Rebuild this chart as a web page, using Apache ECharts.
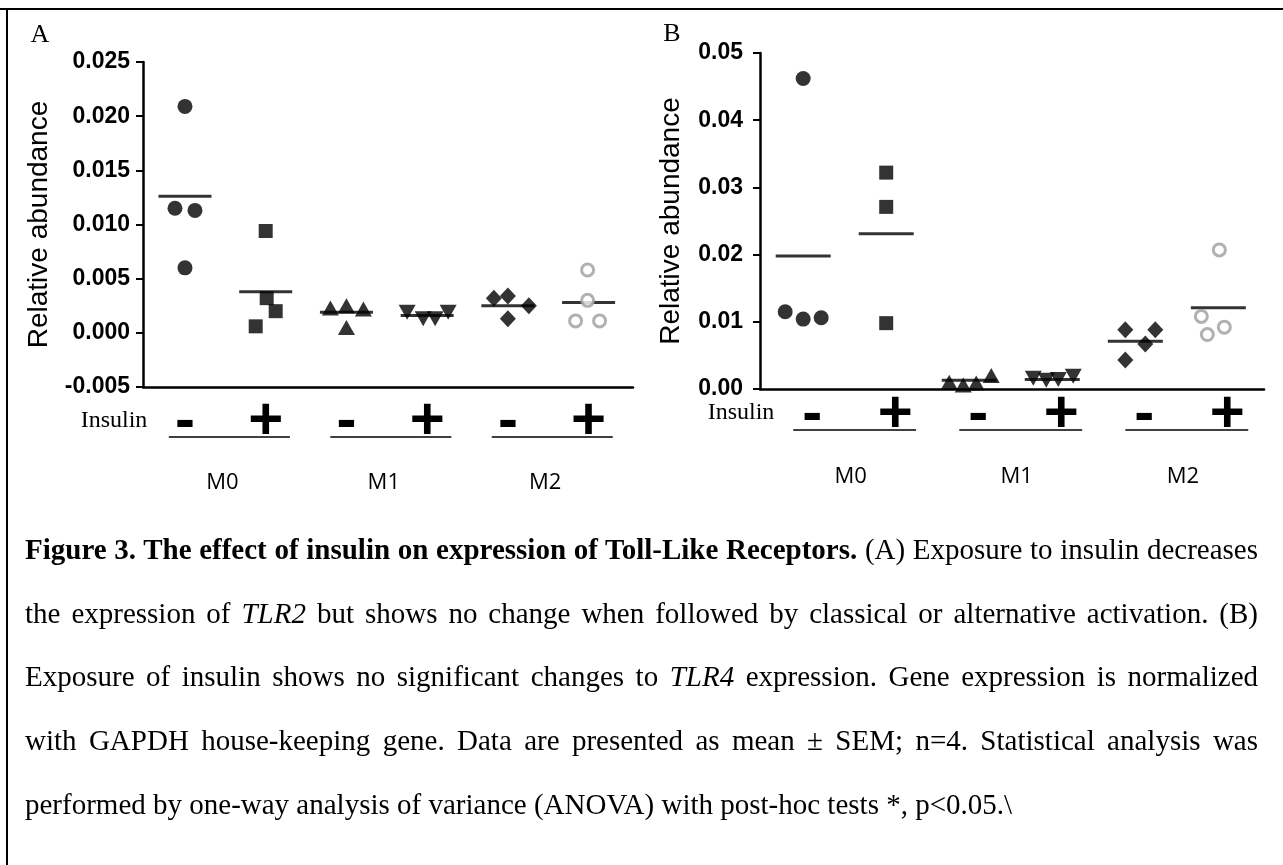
<!DOCTYPE html>
<html>
<head>
<meta charset="utf-8">
<title>Figure 3</title>
<script src="https://cdn.jsdelivr.net/npm/echarts@6/dist/echarts.min.js"></script>
<style>
  html, body { margin: 0; padding: 0; background: #fff; }
  #page { position: relative; width: 1283px; height: 865px; overflow: hidden; background: #fff; }
  #myChart { position: absolute; left: 0; top: 0; width: 1283px; height: 520px; }
  .ruleTop { position: absolute; left: 0; top: 8px; width: 1283px; height: 2px; background: #000; z-index: 5; }
  .ruleLeft { position: absolute; left: 6px; top: 8px; width: 2px; height: 857px; background: #000; z-index: 5; }
  #caption {
    position: absolute; left: 25px; top: 518px; width: 1233px;
    font-family: 'Liberation Serif', 'Times New Roman', serif;
    font-size: 29px; line-height: 63.7px; color: #000;
  }
  #caption .ln { white-space: nowrap; text-align: justify; text-align-last: justify; }
  #caption .ln.last { text-align: left; text-align-last: left; }
</style>
</head>
<body>
<div id="page">
  <div id="myChart"></div>
  <div class="ruleTop"></div>
  <div class="ruleLeft"></div>
  <div id="caption">
    <div class="ln"><b>Figure 3. The effect of insulin on expression of Toll-Like Receptors.</b> (A) Exposure to insulin decreases</div>
    <div class="ln">the expression of <i>TLR2</i> but shows no change when followed by classical or alternative activation. (B)</div>
    <div class="ln">Exposure of insulin shows no significant changes to <i>TLR4</i> expression. Gene expression is normalized</div>
    <div class="ln">with GAPDH house-keeping gene. Data are presented as mean ± SEM; n=4. Statistical analysis was</div>
    <div class="ln last">performed by one-way analysis of variance (ANOVA) with post-hoc tests *, p&lt;0.05.\</div>
  </div>
</div>
<script>
// group labels
const groups = ['M0', 'M1', 'M2']
const insulin = ['-', '+', '-', '+', '-', '+']

// panel A (TLR2)
const tlr2M0neg = [0.0209, 0.0115, 0.0113, 0.0060]
const tlr2M0pos = [0.0094, 0.0032, 0.0020, 0.0006]
const tlr2M1neg = [0.0023, 0.0025, 0.0022, 0.0005]
const tlr2M1pos = [0.0019, 0.0013, 0.0013, 0.0019]
const tlr2M2neg = [0.0032, 0.0034, 0.0025, 0.0013]
const tlr2M2pos = [0.0058, 0.0030, 0.0011, 0.0011]
const tlr2Means = [0.0126, 0.0038, 0.0019, 0.0016, 0.0025, 0.0028]

// panel B (TLR4)
const tlr4M0neg = [0.0462, 0.0115, 0.0104, 0.0106]
const tlr4M0pos = [0.0322, 0.0271, 0.0098]
const tlr4M1neg = [0.0010, 0.0006, 0.0009, 0.0020]
const tlr4M1pos = [0.0016, 0.0013, 0.0014, 0.0019]
const tlr4M2neg = [0.0088, 0.0088, 0.0067, 0.0043]
const tlr4M2pos = [0.0207, 0.0108, 0.0092, 0.0081]
const tlr4Means = [0.0198, 0.0231, 0.0013, 0.0014, 0.0071, 0.0121]

// horizontal scatter of the dots (px), styling only
const jitterA = [[0, -10, 10, 0], [0, 1, 10, -10], [-16, 0, 17, 0], [-20, -4, 8, 21], [-14, 0, 21, 0], [-1, -1, -13, 11]]
const jitterB = [[0, -18, 0, 18], [0, 0, 0], [-20, -6, 7, 22], [-19, -6, 6, 21], [-10, 20, 10, -10], [1, -17, 6, -11]]

const black = '#000'
const grey = '#9e9e9e'
const sans = 'Liberation Sans, Arial, sans-serif'
const serif = 'Liberation Serif, Times New Roman, serif'

// marker per group: circle, square, triangle, inverted triangle, diamond, open circle
const markers = [
	{ symbol: 'circle', size: 15 },
	{ symbol: 'rect', size: 14 },
	{ symbol: 'triangle', size: [17, 15] },
	{ symbol: 'triangle', size: [17, 15], rotate: 180 },
	{ symbol: 'diamond', size: [16, 17] },
	{ symbol: 'circle', size: 12, open: true }
]

const groupSeries = (idx, lists, jitter) => {
	return lists.map((vals, g) => {
		const m = markers[g]
		return {
			type: 'scatter',
			xAxisIndex: idx,
			yAxisIndex: idx,
			symbol: m.symbol,
			symbolSize: m.size,
			symbolRotate: m.rotate || 0,
			itemStyle: m.open
				? { color: '#fff', borderColor: grey, borderWidth: 3 }
				: { color: black },
			silent: true,
			z: 3,
			data: vals.map((v, k) => ({ value: [g, v], symbolOffset: [jitter[g][k], 0] }))
		}
	})
}

const meanSeries = (idx, means, w) => ({
	type: 'scatter',
	xAxisIndex: idx,
	yAxisIndex: idx,
	symbol: 'rect',
	symbolSize: [w, 3],
	itemStyle: { color: black },
	silent: true,
	z: 2,
	data: means.map((m, g) => [g, m])
})

// x axis: insulin signs under each column, group name under each pair
const xAxisFor = (idx, signMargin, nameLine, shift) => ({
	gridIndex: idx,
	type: 'value',
	min: -0.52,
	max: 5.55,
	axisLine: { show: true, onZero: false, lineStyle: { color: black, width: 2.5 } },
	axisTick: { show: false },
	splitLine: { show: false },
	axisLabel: {
		customValues: [0, 1, 2, 3, 4, 5, 0.5, 2.5, 4.5],
		margin: signMargin,
		formatter: function (v) {
			if (Math.round(v) === v) return '{s|' + insulin[v] + '}'
			return '{m|' + groups[Math.floor(v / 2)] + '}'
		},
		rich: {
			s: { fontSize: 60, fontWeight: 'bold', fontFamily: sans, color: black, lineHeight: 30, padding: [0, 0, 0, shift * 2] },
			m: { fontSize: 22, fontFamily: 'Open Sans, sans-serif', color: black, lineHeight: nameLine, padding: [0, 0, 0, shift * 2 - 6] }
		}
	}
})

const yAxisFor = (idx, min, max, step, digits, labelMargin, nameGap) => ({
	gridIndex: idx,
	type: 'value',
	min: min,
	max: max,
	interval: step,
	name: 'Relative abundance',
	nameLocation: 'middle',
	nameGap: nameGap,
	nameTextStyle: { fontSize: 28, fontFamily: sans, color: black },
	axisLine: { show: true, onZero: false, lineStyle: { color: black, width: 2.5 } },
	axisTick: { show: true, length: 7, lineStyle: { color: black, width: 2 } },
	splitLine: { show: false },
	axisLabel: {
		margin: labelMargin,
		fontSize: 23,
		fontWeight: 'bold',
		fontFamily: sans,
		color: black,
		formatter: function (v) {
			return (Math.abs(v) < 1e-9 ? 0 : v).toFixed(digits)
		}
	}
})

const option = {
	animation: false,
	backgroundColor: 'transparent',
	grid: [
		{ left: 143, top: 62, width: 490, height: 325, outerBoundsMode: 'none' },
		{ left: 760, top: 53, width: 504, height: 336, outerBoundsMode: 'none' }
	],
	xAxis: [xAxisFor(0, 20, 152, 0), xAxisFor(1, 11, 154, 9)],
	yAxis: [
		yAxisFor(0, -0.005, 0.025, 0.005, 3, 13, 90),
		yAxisFor(1, 0, 0.05, 0.01, 2, 17, 75)
	],
	graphic: [
		{ type: 'text', style: { text: 'A', x: 40, y: 35, align: 'center', verticalAlign: 'middle', fontSize: 26, fontFamily: serif, fill: black } },
		{ type: 'text', style: { text: 'B', x: 672, y: 34, align: 'center', verticalAlign: 'middle', fontSize: 26, fontFamily: serif, fill: black } },
		{ type: 'text', style: { text: 'Insulin', x: 114, y: 421, align: 'center', verticalAlign: 'middle', fontSize: 24, fontFamily: serif, fill: black } },
		{ type: 'text', style: { text: 'Insulin', x: 741, y: 413, align: 'center', verticalAlign: 'middle', fontSize: 24, fontFamily: serif, fill: black } }
	],
	series: [
		meanSeries(0, tlr2Means, 53),
		...groupSeries(0, [tlr2M0neg, tlr2M0pos, tlr2M1neg, tlr2M1pos, tlr2M2neg, tlr2M2pos], jitterA),
		meanSeries(1, tlr4Means, 55),
		...groupSeries(1, [tlr4M0neg, tlr4M0pos, tlr4M1neg, tlr4M1pos, tlr4M2neg, tlr4M2pos], jitterB)
	]
}

// lines under each -/+ pair, placed through the x scale
const underlines = (idx, from, to, drop) => {
	const out = []
	const yMin = option.yAxis[idx].min
	for (let g = 0; g < groups.length; g++) {
		const a = myChart.convertToPixel({ xAxisIndex: idx, yAxisIndex: idx }, [g * 2 + from, yMin])
		const b = myChart.convertToPixel({ xAxisIndex: idx, yAxisIndex: idx }, [g * 2 + 1 + to, yMin])
		out.push({
			type: 'line',
			shape: { x1: a[0], y1: a[1] + drop, x2: b[0], y2: b[1] + drop },
			style: { stroke: black, lineWidth: 1.5 }
		})
	}
	return out
}

const myChart = echarts.init(document.getElementById('myChart'))
myChart.setOption(option)
myChart.setOption({
	graphic: option.graphic.concat(underlines(0, -0.2, 0.3, 50), underlines(1, -0.12, 0.36, 41))
})
</script>
</body>
</html>
